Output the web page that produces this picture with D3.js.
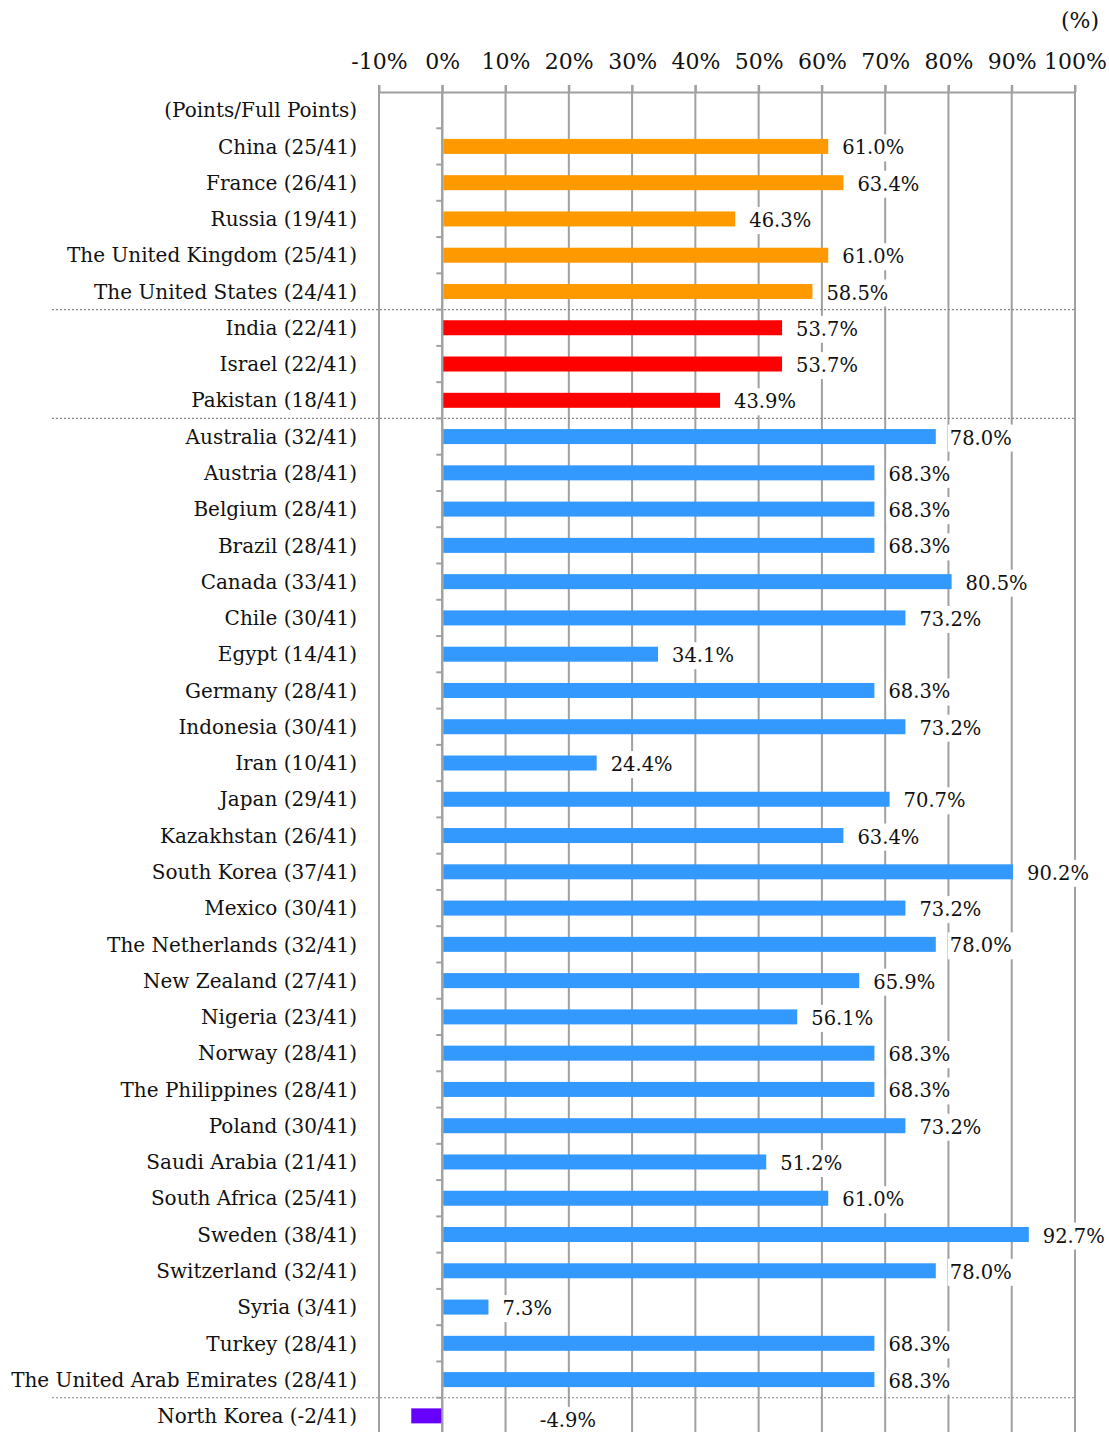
<!DOCTYPE html>
<html>
<head>
<meta charset="utf-8">
<script src="https://cdn.jsdelivr.net/npm/d3@7"></script>
<style>
  body { margin: 0; background: #fff; }
  svg text { font-family: "DejaVu Serif", Georgia, serif; fill: #111; }
</style>
</head>
<body>
<div id="chart"></div>
<script>
var svgWidth = 1109;
var svgHeight = 1432;

// data
var countries = ["China", "France", "Russia", "The United Kingdom", "The United States",
  "India", "Israel", "Pakistan",
  "Australia", "Austria", "Belgium", "Brazil", "Canada", "Chile", "Egypt", "Germany",
  "Indonesia", "Iran", "Japan", "Kazakhstan", "South Korea", "Mexico", "The Netherlands",
  "New Zealand", "Nigeria", "Norway", "The Philippines", "Poland", "Saudi Arabia",
  "South Africa", "Sweden", "Switzerland", "Syria", "Turkey", "The United Arab Emirates",
  "North Korea"];
var points = [25, 26, 19, 25, 24, 22, 22, 18, 32, 28, 28, 28, 33, 30, 14, 28, 30, 10, 29, 26,
  37, 30, 32, 27, 23, 28, 28, 30, 21, 25, 38, 32, 3, 28, 28, -2];
var fullPoints = 41;
var percents = [61.0, 63.4, 46.3, 61.0, 58.5, 53.7, 53.7, 43.9, 78.0, 68.3, 68.3, 68.3, 80.5,
  73.2, 34.1, 68.3, 73.2, 24.4, 70.7, 63.4, 90.2, 73.2, 78.0, 65.9, 56.1, 68.3, 68.3, 73.2,
  51.2, 61.0, 92.7, 78.0, 7.3, 68.3, 68.3, -4.9];
var groups = ["p5", "p5", "p5", "p5", "p5", "nw", "nw", "nw",
  "o", "o", "o", "o", "o", "o", "o", "o", "o", "o", "o", "o", "o", "o", "o", "o", "o", "o",
  "o", "o", "o", "o", "o", "o", "o", "o", "o", "nk"];
var groupColors = { p5: "#ff9900", nw: "#ff0000", o: "#3399ff", nk: "#6600ff" };
var xTicks = [-10, 0, 10, 20, 30, 40, 50, 60, 70, 80, 90, 100];
var headerLabel = "(Points/Full Points)";

var rows = [headerLabel].concat(countries.map(function(c, i) {
  return c + " (" + points[i] + "/" + fullPoints + ")";
}));
var data = countries.map(function(c, i) {
  return { label: rows[i + 1], value: percents[i], group: groups[i] };
});

var svg = d3.select("#chart").append("svg")
  .attr("width", svgWidth)
  .attr("height", svgHeight);

var x = d3.scaleLinear().domain([-10, 100]).range([379, 1075]);
var y = d3.scaleBand().domain(rows).range([92, 1434]);
var grid = "#a0a0a0";

// vertical gridlines
svg.append("g").selectAll("line")
  .data(xTicks)
  .enter().append("line")
  .attr("x1", d => x(d)).attr("x2", d => x(d))
  .attr("y1", 85).attr("y2", svgHeight)
  .attr("stroke", grid).attr("stroke-width", 2);

// top axis
var topAxis = d3.axisTop(x).tickValues(xTicks).tickSize(7).tickSizeOuter(0)
  .tickFormat(d => d + "%");
var ax = svg.append("g").attr("transform", "translate(0,92)").call(topAxis);
ax.select(".domain").attr("stroke", grid).attr("stroke-width", 2);
ax.selectAll(".tick line").attr("stroke", grid).attr("stroke-width", 2);
ax.selectAll(".tick text")
  .attr("y", -23)
  .style("font-size", "22px")
  .style("font-family", "'DejaVu Serif', Georgia, serif")
  .attr("fill", "#111");

svg.append("text")
  .attr("x", 1099).attr("y", 28)
  .attr("text-anchor", "end")
  .style("font-size", "22px")
  .text("(%)");

// dotted separators
var seps = ["India (22/41)", "Australia (32/41)", "North Korea (-2/41)"];
svg.append("g").selectAll("line")
  .data(seps)
  .enter().append("line")
  .attr("x1", 52).attr("x2", 1075)
  .attr("y1", d => y(d)).attr("y2", d => y(d))
  .attr("stroke", "#888").attr("stroke-width", 1.2)
  .attr("stroke-dasharray", "2,2");

// zero axis with ticks at band edges
svg.append("line")
  .attr("x1", x(0)).attr("x2", x(0))
  .attr("y1", 92).attr("y2", svgHeight)
  .attr("stroke", grid).attr("stroke-width", 2);
svg.append("g").selectAll("line")
  .data(rows.slice(1))
  .enter().append("line")
  .attr("x1", x(0) - 6).attr("x2", x(0))
  .attr("y1", d => y(d)).attr("y2", d => y(d))
  .attr("stroke", grid).attr("stroke-width", 2);

// bars
var barH = 15;
svg.append("g").selectAll("rect")
  .data(data)
  .enter().append("rect")
  .attr("x", d => x(Math.min(0, d.value)) + (d.value < 0 ? 0 : 1))
  .attr("y", d => y(d.label) + y.bandwidth() / 2 - barH / 2)
  .attr("width", d => Math.abs(x(d.value) - x(0)) - 1)
  .attr("height", barH)
  .attr("fill", d => groupColors[d.group]);

// category labels
svg.append("g").selectAll("text")
  .data(rows)
  .enter().append("text")
  .attr("x", 357)
  .attr("y", d => y(d) + y.bandwidth() / 2)
  .attr("dy", "0.36em")
  .attr("text-anchor", "end")
  .style("font-size", "20px")
  .text(d => d);

// value labels with white boxes
var vl = svg.append("g").selectAll("g")
  .data(data)
  .enter().append("g")
  .attr("transform", function(d) {
    var cx = d.value < 0 ? x(20) - 29 : x(d.value) + 14;
    var cy = y(d.label) + y.bandwidth() / 2 + (d.value < 0 ? 4 : 1);
    return "translate(" + cx + "," + cy + ")";
  });
vl.append("text")
  .attr("dy", "0.36em")
  .style("font-size", "19.5px")
  .text(d => d.value.toFixed(1) + "%");
vl.each(function() {
  var g = d3.select(this);
  var bb = g.select("text").node().getBBox();
  g.insert("rect", "text")
    .attr("x", bb.x - 2).attr("y", bb.y - 2)
    .attr("width", bb.width + 4).attr("height", bb.height + 4)
    .attr("fill", "#fff");
});
</script>
</body>
</html>
